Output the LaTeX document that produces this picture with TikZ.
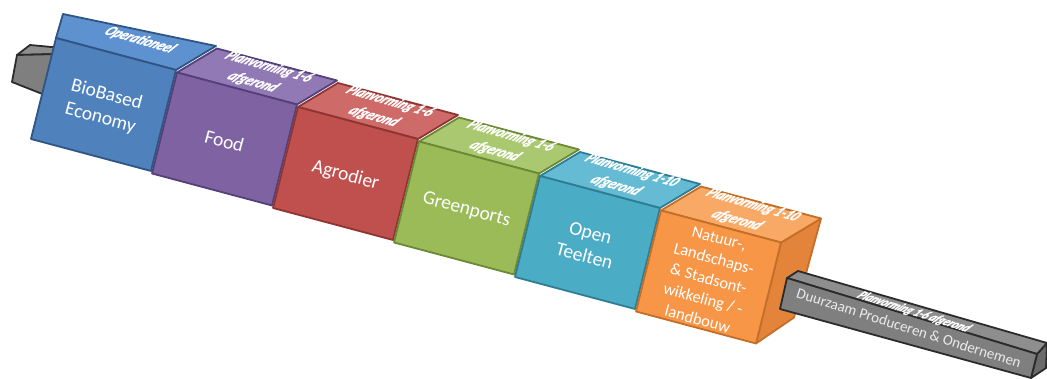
\documentclass[tikz,border=0pt]{standalone}
\usepackage{fontspec}
\setmainfont{Carlito}
\newfontfamily\topfont{Carlito}[FakeBold=1.6]
\usetikzlibrary{calc}
% kleuren: voorvlak, bovenvlak, rand
\definecolor{bb-f}{HTML}{4F81BD}\definecolor{bb-t}{HTML}{5E91CF}\definecolor{bb-l}{HTML}{2F5683}
\definecolor{fd-f}{HTML}{7F62A1}\definecolor{fd-t}{HTML}{9079B4}\definecolor{fd-l}{HTML}{55417A}
\definecolor{ag-f}{HTML}{C0504D}\definecolor{ag-t}{HTML}{CE6A67}\definecolor{ag-l}{HTML}{8E3533}
\definecolor{gp-f}{HTML}{9BBB59}\definecolor{gp-t}{HTML}{A9C86F}\definecolor{gp-l}{HTML}{6C8A35}
\definecolor{ot-f}{HTML}{4BACC6}\definecolor{ot-t}{HTML}{64BBD3}\definecolor{ot-l}{HTML}{2F7D93}
\definecolor{nl-f}{HTML}{F79646}\definecolor{nl-t}{HTML}{F9A966}\definecolor{nl-l}{HTML}{C46E28}
\definecolor{nl-s}{HTML}{E3843A}
\definecolor{bar-f}{HTML}{7F7F7F}\definecolor{bar-t}{HTML}{8E8E8E}\definecolor{bar-s}{HTML}{6A6A6A}
\definecolor{bar-l}{HTML}{2B2B2B}
\begin{document}
\begin{tikzpicture}[x=1pt,y=-1pt,line join=round,line cap=round]
    \tikzset{face/.style={draw=#1,line width=1.8pt},
        front text/.style={text=white,align=center,rotate=-15},
        top text/.style={text=white,align=center,rotate=-16,xslant=0.6,xscale=0.85,font=\topfont\bfseries\itshape\fontsize{15}{19}\selectfont}}
    \useasboundingbox (0,0) rectangle (1047,379);
    % balk links
    \coordinate (lb-a) at (17,55); \coordinate (lb-b) at (58,54);
    \coordinate (lb-c) at (50,97); \coordinate (lb-d) at (12,82);
    \coordinate (lb-g) at (30,45); \coordinate (lb-e) at (62,48);
    \filldraw[face=bar-l,fill=bar-t] (lb-a)--(lb-g)--(lb-e)--(lb-b)--cycle;
    \filldraw[face=bar-l,fill=bar-f] (lb-a)--(lb-b)--(lb-c)--(lb-d)--cycle;
    % blokken
    \foreach \i/\nm/\dl/\fs/\bs/\txt/\toptxt in {
        0/bb/7/19.5/24/{BioBased\\Economy}/{Operationeel},
        1/fd/40/19.5/24/{Food}/{Planvorming 1-6\\afgerond},
        2/ag/40/19.5/24/{Agrodier}/{Planvorming 1-6\\afgerond},
        3/gp/40/19.5/24/{Greenports}/{Planvorming 1-6\\afgerond},
        4/ot/40/19.5/24/{Open\\Teelten}/{Planvorming 1-10\\afgerond},
        5/nl/40/16.5/21/{Natuur-,\\Landschaps-\\\& Stadsont-\\wikkeling / -\\landbouw}/{Planvorming 1-10\\afgerond}}{
        \coordinate (\nm-a) at (56+121*\i,38+34.5*\i);
        \coordinate (\nm-b) at ($(\nm-a)+(120,32)$);
        \coordinate (\nm-c) at ($(\nm-a)+(95,133)$);
        \coordinate (\nm-d) at ($(\nm-a)+(-25,101)$);
        \coordinate (\nm-e) at ($(\nm-b)+(40,-24)$);
        \coordinate (\nm-g) at ($(\nm-a)+(\dl,-24)$);
        \ifnum\i=5
            \filldraw[face=\nm-l,fill=\nm-s] (\nm-b)--(\nm-e)--($(\nm-c)+(38,-26)$)--(\nm-c)--cycle;
        \fi
        \filldraw[face=\nm-l,fill=\nm-t] (\nm-a)--(\nm-g)--(\nm-e)--(\nm-b)--cycle;
        \filldraw[face=\nm-l,fill=\nm-f] (\nm-a)--(\nm-b)--(\nm-c)--(\nm-d)--cycle;
        \node[front text,font=\fontsize{\fs}{\bs}\selectfont] (\nm) at ($(\nm-a)!0.5!(\nm-c)+(0,2)$) {\txt};
        \node[top text] (\nm-top) at ($(\nm-a)!0.5!(\nm-e)+(4,-2)$) {\toptxt};
    }
    % balk rechts
    \coordinate (bar-a) at (787,278); \coordinate (bar-b) at (1037,354);
    \coordinate (bar-c) at (1031,378); \coordinate (bar-d) at (780,309);
    \coordinate (bar-g) at (798,271); \coordinate (bar-e) at (1047,343);
    \coordinate (bar-h) at (1046,368);
    \filldraw[face=bar-l,fill=bar-s] (bar-b)--(bar-e)--(bar-h)--(bar-c)--cycle;
    \filldraw[face=bar-l,fill=bar-t] (bar-a)--(bar-g)--(bar-e)--(bar-b)--cycle;
    \filldraw[face=bar-l,fill=bar-f] (bar-a)--(bar-b)--(bar-c)--(bar-d)--cycle;
    \node[text=white!92!black,rotate=-17.5,font=\fontsize{15}{18}\selectfont] (dpo) at ($(bar-a)!0.5!(bar-c)$) {Duurzaam Produceren \& Ondernemen};
    \node[text=white,rotate=-17.5,xslant=0.6,xscale=0.85,font=\topfont\bfseries\itshape\fontsize{12.5}{14}\selectfont] (dpo-top) at ($(dpo)+(5,-16)$) {Planvorming 1-6 afgerond};
\end{tikzpicture}
\end{document}
